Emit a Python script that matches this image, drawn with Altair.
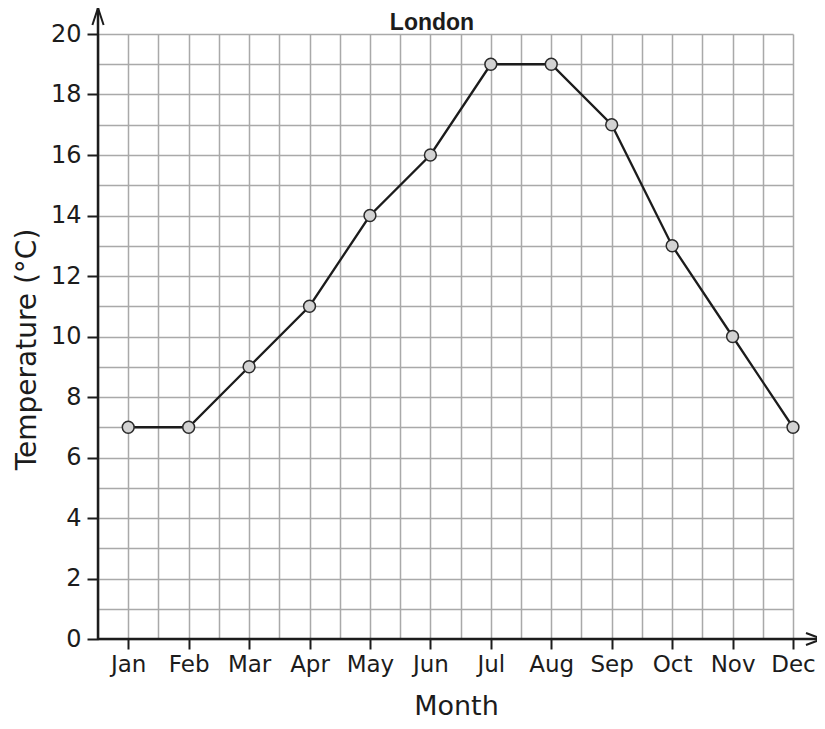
import altair as alt
import pandas as pd

title_text = "London"
months = ["Jan", "Feb", "Mar", "Apr", "May", "Jun", "Jul", "Aug", "Sep", "Oct", "Nov", "Dec"]
month_num = list(range(1, 13))
temps = [7, 7, 9, 11, 14, 16, 19, 19, 17, 13, 10, 7]

x_grid = [i / 2 for i in range(1, 25)]   # 0.5 .. 12 half-month grid
y_grid = list(range(0, 21))               # 0 .. 20

W, H = 695, 605
INK = "#1c1c1c"
GRID = "#a9a9a9"
FONT = "DejaVu Sans"

df = pd.DataFrame({"m": month_num, "month": months, "temp": temps})
one = pd.DataFrame({"t": [title_text]})

js_months = "[" + ",".join("'%s'" % m for m in months) + "]"

x_enc = alt.X(
    "m:Q",
    scale=alt.Scale(domain=[0.5, 12], nice=False, zero=False),
    axis=alt.Axis(
        values=x_grid,
        grid=True, gridColor=GRID, gridWidth=1.5,
        domain=False,
        ticks=True, tickSize=10, tickWidth=2, tickColor=INK,
        tickOpacity={"condition": {"test": "datum.value % 1 !== 0", "value": 0}, "value": 1},
        labelExpr="datum.value % 1 === 0 ? " + js_months + "[datum.value - 1] : ''",
        labelFont=FONT, labelFontSize=23, labelColor=INK, labelPadding=4,
        labelFlush=False, labelOverlap=False,
        title="Month", titleFont=FONT, titleFontSize=27, titleFontWeight="normal",
        titleColor=INK, titleX=358, titleY=75, titleBaseline="alphabetic", titleAlign="center",
    ),
)

y_enc = alt.Y(
    "temp:Q",
    scale=alt.Scale(domain=[0, 20], nice=False, zero=True),
    axis=alt.Axis(
        values=y_grid,
        grid=True, gridColor=GRID, gridWidth=1.5,
        domain=False,
        ticks=True, tickSize=11, tickWidth=2, tickColor=INK,
        tickOpacity={"condition": {"test": "datum.value % 2 !== 0", "value": 0}, "value": 1},
        labelExpr="datum.value % 2 === 0 ? datum.label : ''",
        labelFont=FONT, labelFontSize=24, labelColor=INK, labelPadding=6,
        labelOverlap=False, labelFlush=False,
        title="Temperature (°C)", titleFont=FONT, titleFontSize=28, titleFontWeight="normal",
        titleColor=INK, titleX=-71, titleY=315, titleAngle=270,
        titleBaseline="middle", titleAlign="center",
    ),
)

base = alt.Chart(df).encode(x=x_enc, y=y_enc)
line = base.mark_line(color=INK, strokeWidth=2.3)
pts = base.mark_circle(
    size=140, color="#d3d3d3", stroke="#2a2a2a", strokeWidth=1.5, opacity=1
)

x_axis = alt.Chart(one).mark_rule(color=INK, strokeWidth=2.5).encode(
    x=alt.value(0), x2=alt.value(722), y=alt.value(H)
)
y_axis = alt.Chart(one).mark_rule(color=INK, strokeWidth=2.5).encode(
    x=alt.value(0), y=alt.value(-26), y2=alt.value(H)
)
x_arrow = alt.Chart(one).mark_point(
    shape="M -1 -0.375 L 0 0 L -1 0.375", filled=False, size=1024,
    strokeWidth=2, color=INK, opacity=1
).encode(x=alt.value(724), y=alt.value(H))
y_arrow = alt.Chart(one).mark_point(
    shape="M -0.33 1 L 0 0 L 0.33 1", filled=False, size=1156,
    strokeWidth=2, color=INK, opacity=1
).encode(x=alt.value(0), y=alt.value(-26))

title = alt.Chart(one).mark_text(
    font="Liberation Sans", fontSize=23, fontWeight="bold", color=INK,
    align="center", baseline="alphabetic"
).encode(text="t:N", x=alt.value(334), y=alt.value(-4))

chart = alt.layer(line, pts, x_axis, y_axis, x_arrow, y_arrow, title).properties(
    width=W, height=H,
    autosize=alt.AutoSizeParams(type="none"),
    padding={"left": 90, "top": 26, "right": 24, "bottom": 80},
).configure_view(strokeWidth=0)

chart.save("out.html", embed_options={"renderer": "svg", "actions": False})
